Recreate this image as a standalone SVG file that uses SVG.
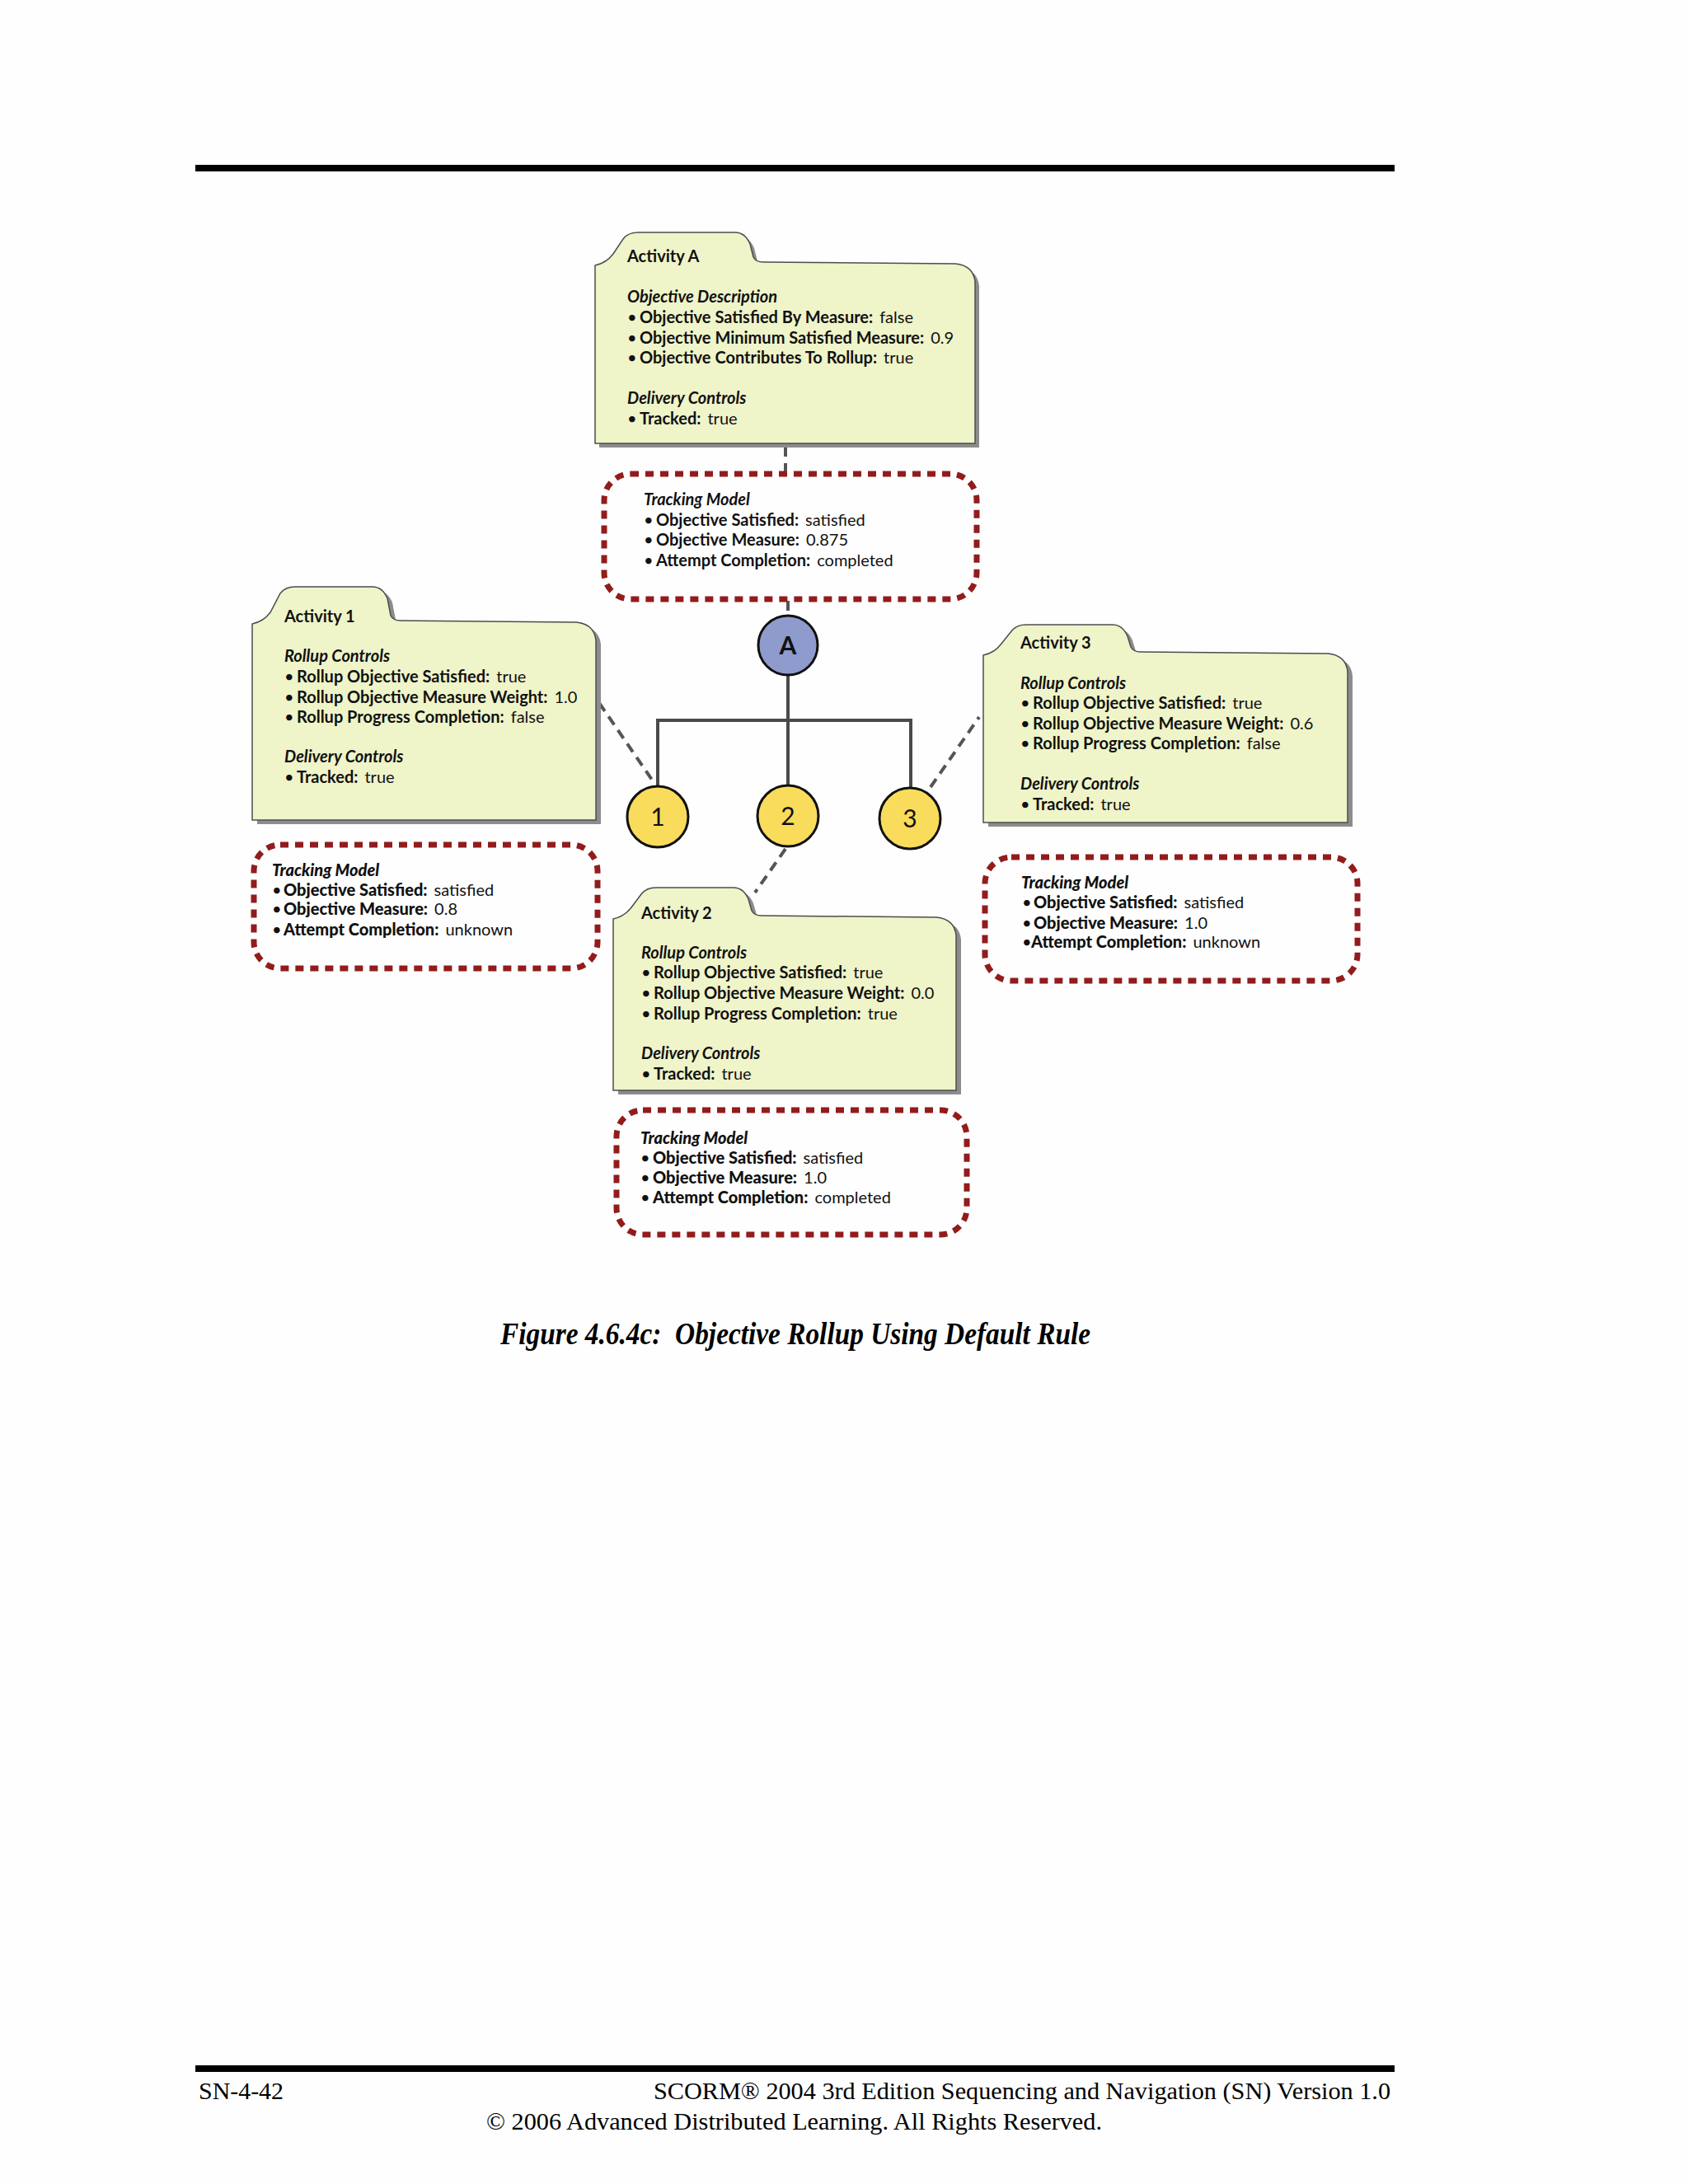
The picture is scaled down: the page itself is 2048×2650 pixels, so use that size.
<svg xmlns="http://www.w3.org/2000/svg" width="2048" height="2650" viewBox="0 0 2048 2650">
<style>
.folder{fill:#eff4c9;stroke:#4d4d4d;stroke-width:1.5}
.shadow{fill:#8c8c8c}
.track{fill:none;stroke:#921c1c;stroke-width:7;stroke-dasharray:10 8}
.t{font-family:Lato,"Open Sans","Liberation Sans",sans-serif;font-size:20px;fill:#111}
.b{font-weight:bold}
.bi{font-weight:bold;font-style:italic}
.h{font-weight:900}
.hi{font-weight:900;font-style:italic}
.dash{stroke:#555;stroke-width:4;stroke-dasharray:12 8;fill:none}
.tree{stroke:#4a4a4a;stroke-width:4;fill:none}
.circ{stroke:#111;stroke-width:3}
.num{font-family:Lato,"Open Sans","Liberation Sans",sans-serif;font-size:30px;fill:#111;text-anchor:middle}
.serif{font-family:"Liberation Serif","Times New Roman",serif;fill:#000}
</style>
<rect width="2048" height="2650" fill="#fefefe"/>
<rect x="237" y="200" width="1455" height="8" fill="#000"/>
<rect x="237" y="2506" width="1455" height="8" fill="#000"/>

<g id="connectors">
<line class="dash" x1="953" y1="542" x2="953" y2="575"/>
<line class="dash" x1="956" y1="729" x2="956" y2="747"/>
<polyline class="tree" points="956,819 956,874"/>
<polyline class="tree" points="798,954 798,874 1105,874 1105,956"/>
<line class="tree" x1="956" y1="874" x2="956" y2="953"/>
<line class="dash" x1="727" y1="853" x2="791" y2="946"/>
<line class="dash" x1="1129" y1="955" x2="1188" y2="870"/>
<line class="dash" x1="953" y1="1030" x2="916" y2="1083"/>
</g>

<g id="activityA">
<path class="shadow" transform="translate(5,5)" d="M 722,322 C 732,320 738,316 744,308 L 756,290 Q 762,282 774,282 L 892,282 Q 904,282 910,296 L 914,312 Q 917,318 926,318 L 1159,320 Q 1181,322 1183,342 L 1183,538 L 722,538 Z"/>
<path class="folder" d="M 722,322 C 732,320 738,316 744,308 L 756,290 Q 762,282 774,282 L 892,282 Q 904,282 910,296 L 914,312 Q 917,318 926,318 L 1159,320 Q 1181,322 1183,342 L 1183,538 L 722,538 Z"/>
<text class="t b" x="761" y="318">Activity A</text>
<text class="t bi" x="761" y="367">Objective Description</text>
<text class="t" x="761" y="392">•</text><text class="t" x="776" y="392"><tspan class="b">Objective Satisfied By Measure:</tspan><tspan dx="8">false</tspan></text>
<text class="t" x="761" y="417">•</text><text class="t" x="776" y="417"><tspan class="b">Objective Minimum Satisfied Measure:</tspan><tspan dx="8">0.9</tspan></text>
<text class="t" x="761" y="441">•</text><text class="t" x="776" y="441"><tspan class="b">Objective Contributes To Rollup:</tspan><tspan dx="8">true</tspan></text>
<text class="t bi" x="761" y="490">Delivery Controls</text>
<text class="t" x="761" y="515">•</text><text class="t" x="776" y="515"><tspan class="b">Tracked:</tspan><tspan dx="8">true</tspan></text>
</g>

<g id="trackingA">
<rect class="track" x="733" y="575" width="452" height="152" rx="32"/>
<text class="t bi" x="781" y="613">Tracking Model</text>
<text class="t" x="781" y="638">•</text><text class="t" x="796" y="638"><tspan class="b">Objective Satisfied:</tspan><tspan dx="8">satisfied</tspan></text>
<text class="t" x="781" y="662">•</text><text class="t" x="796" y="662"><tspan class="b">Objective Measure:</tspan><tspan dx="8">0.875</tspan></text>
<text class="t" x="781" y="687">•</text><text class="t" x="796" y="687"><tspan class="b">Attempt Completion:</tspan><tspan dx="8">completed</tspan></text>
</g>

<g id="nodeA">
<circle class="circ" cx="956" cy="783" r="36" fill="#8e9bcc"/>
<text class="num b" x="956" y="794">A</text>
</g>
<g id="node1">
<circle class="circ" cx="798" cy="991" r="37" fill="#f9dc5c"/>
<text class="num" x="798" y="1002">1</text>
</g>
<g id="node2">
<circle class="circ" cx="956" cy="990" r="37" fill="#f9dc5c"/>
<text class="num" x="956" y="1001">2</text>
</g>
<g id="node3">
<circle class="circ" cx="1104" cy="993" r="37" fill="#f9dc5c"/>
<text class="num" x="1104" y="1004">3</text>
</g>

<g id="activity1">
<path class="shadow" transform="translate(6,5)" d="M 306,757 C 316,755 322,751 328,743 L 340,720 Q 346,712 358,712 L 452,712 Q 464,712 470,726 L 474,747 Q 477,753 486,753 L 699,755 Q 721,757 723,777 L 723,995 L 306,995 Z"/>
<path class="folder" d="M 306,757 C 316,755 322,751 328,743 L 340,720 Q 346,712 358,712 L 452,712 Q 464,712 470,726 L 474,747 Q 477,753 486,753 L 699,755 Q 721,757 723,777 L 723,995 L 306,995 Z"/>
<text class="t b" x="345" y="755">Activity 1</text>
<text class="t bi" x="345" y="803">Rollup Controls</text>
<text class="t" x="345" y="828">•</text><text class="t" x="360" y="828"><tspan class="b">Rollup Objective Satisfied:</tspan><tspan dx="8">true</tspan></text>
<text class="t" x="345" y="853">•</text><text class="t" x="360" y="853"><tspan class="b">Rollup Objective Measure Weight:</tspan><tspan dx="8">1.0</tspan></text>
<text class="t" x="345" y="877">•</text><text class="t" x="360" y="877"><tspan class="b">Rollup Progress Completion:</tspan><tspan dx="8">false</tspan></text>
<text class="t bi" x="345" y="925">Delivery Controls</text>
<text class="t" x="345" y="950">•</text><text class="t" x="360" y="950"><tspan class="b">Tracked:</tspan><tspan dx="8">true</tspan></text>
</g>

<g id="tracking1">
<rect class="track" x="308" y="1025" width="417" height="150" rx="32"/>
<text class="t hi" x="330" y="1063">Tracking Model</text>
<text class="t" x="330" y="1087">•</text><text class="t" x="344" y="1087"><tspan class="h">Objective Satisfied:</tspan><tspan dx="8">satisfied</tspan></text>
<text class="t" x="330" y="1110">•</text><text class="t" x="344" y="1110"><tspan class="h">Objective Measure:</tspan><tspan dx="8">0.8</tspan></text>
<text class="t" x="330" y="1135">•</text><text class="t" x="344" y="1135"><tspan class="h">Attempt Completion:</tspan><tspan dx="8">unknown</tspan></text>
</g>

<g id="activity3">
<path class="shadow" transform="translate(6,5)" d="M 1193,795 C 1203,793 1209,789 1215,781 L 1227,766 Q 1233,758 1245,758 L 1350,758 Q 1362,758 1368,772 L 1372,785 Q 1375,791 1384,791 L 1611,793 Q 1633,795 1635,815 L 1635,998 L 1193,998 Z"/>
<path class="folder" d="M 1193,795 C 1203,793 1209,789 1215,781 L 1227,766 Q 1233,758 1245,758 L 1350,758 Q 1362,758 1368,772 L 1372,785 Q 1375,791 1384,791 L 1611,793 Q 1633,795 1635,815 L 1635,998 L 1193,998 Z"/>
<text class="t b" x="1238" y="787">Activity 3</text>
<text class="t bi" x="1238" y="836">Rollup Controls</text>
<text class="t" x="1238" y="860">•</text><text class="t" x="1253" y="860"><tspan class="b">Rollup Objective Satisfied:</tspan><tspan dx="8">true</tspan></text>
<text class="t" x="1238" y="885">•</text><text class="t" x="1253" y="885"><tspan class="b">Rollup Objective Measure Weight:</tspan><tspan dx="8">0.6</tspan></text>
<text class="t" x="1238" y="909">•</text><text class="t" x="1253" y="909"><tspan class="b">Rollup Progress Completion:</tspan><tspan dx="8">false</tspan></text>
<text class="t bi" x="1238" y="958">Delivery Controls</text>
<text class="t" x="1238" y="983">•</text><text class="t" x="1253" y="983"><tspan class="b">Tracked:</tspan><tspan dx="8">true</tspan></text>
</g>

<g id="tracking3">
<rect class="track" x="1195" y="1040" width="452" height="150" rx="32"/>
<text class="t hi" x="1239" y="1078">Tracking Model</text>
<text class="t" x="1240" y="1102">•</text><text class="t" x="1254" y="1102"><tspan class="h">Objective Satisfied:</tspan><tspan dx="8">satisfied</tspan></text>
<text class="t" x="1240" y="1127">•</text><text class="t" x="1254" y="1127"><tspan class="h">Objective Measure:</tspan><tspan dx="8">1.0</tspan></text>
<text class="t" x="1240" y="1150">•</text><text class="t" x="1251" y="1150"><tspan class="h">Attempt Completion:</tspan><tspan dx="8">unknown</tspan></text>
</g>

<g id="activity2">
<path class="shadow" transform="translate(6,5)" d="M 744,1115 C 754,1113 760,1109 766,1101 L 778,1085 Q 784,1077 796,1077 L 890,1077 Q 902,1077 908,1091 L 912,1105 Q 915,1111 924,1111 L 1136,1113 Q 1158,1115 1160,1135 L 1160,1323 L 744,1323 Z"/>
<path class="folder" d="M 744,1115 C 754,1113 760,1109 766,1101 L 778,1085 Q 784,1077 796,1077 L 890,1077 Q 902,1077 908,1091 L 912,1105 Q 915,1111 924,1111 L 1136,1113 Q 1158,1115 1160,1135 L 1160,1323 L 744,1323 Z"/>
<text class="t b" x="778" y="1115">Activity 2</text>
<text class="t bi" x="778" y="1163">Rollup Controls</text>
<text class="t" x="778" y="1187">•</text><text class="t" x="793" y="1187"><tspan class="b">Rollup Objective Satisfied:</tspan><tspan dx="8">true</tspan></text>
<text class="t" x="778" y="1212">•</text><text class="t" x="793" y="1212"><tspan class="b">Rollup Objective Measure Weight:</tspan><tspan dx="8">0.0</tspan></text>
<text class="t" x="778" y="1237">•</text><text class="t" x="793" y="1237"><tspan class="b">Rollup Progress Completion:</tspan><tspan dx="8">true</tspan></text>
<text class="t bi" x="778" y="1285">Delivery Controls</text>
<text class="t" x="778" y="1310">•</text><text class="t" x="793" y="1310"><tspan class="b">Tracked:</tspan><tspan dx="8">true</tspan></text>
</g>

<g id="tracking2">
<rect class="track" x="748" y="1347" width="425" height="151" rx="32"/>
<text class="t hi" x="777" y="1388">Tracking Model</text>
<text class="t" x="777" y="1412">•</text><text class="t" x="792" y="1412"><tspan class="h">Objective Satisfied:</tspan><tspan dx="8">satisfied</tspan></text>
<text class="t" x="777" y="1436">•</text><text class="t" x="792" y="1436"><tspan class="h">Objective Measure:</tspan><tspan dx="8">1.0</tspan></text>
<text class="t" x="777" y="1460">•</text><text class="t" x="792" y="1460"><tspan class="h">Attempt Completion:</tspan><tspan dx="8">completed</tspan></text>
</g>

<text class="serif" x="607" y="1631" font-size="37" font-weight="bold" font-style="italic" textLength="716" lengthAdjust="spacingAndGlyphs">Figure 4.6.4c:&#160; Objective Rollup Using Default Rule</text>
<text class="serif" x="241" y="2547" font-size="30" textLength="103" lengthAdjust="spacingAndGlyphs">SN-4-42</text>
<text class="serif" x="793" y="2547" font-size="30" textLength="894" lengthAdjust="spacingAndGlyphs">SCORM® 2004 3rd Edition Sequencing and Navigation (SN) Version 1.0</text>
<text class="serif" x="590" y="2584" font-size="30" textLength="747" lengthAdjust="spacingAndGlyphs">© 2006 Advanced Distributed Learning. All Rights Reserved.</text>
</svg>
